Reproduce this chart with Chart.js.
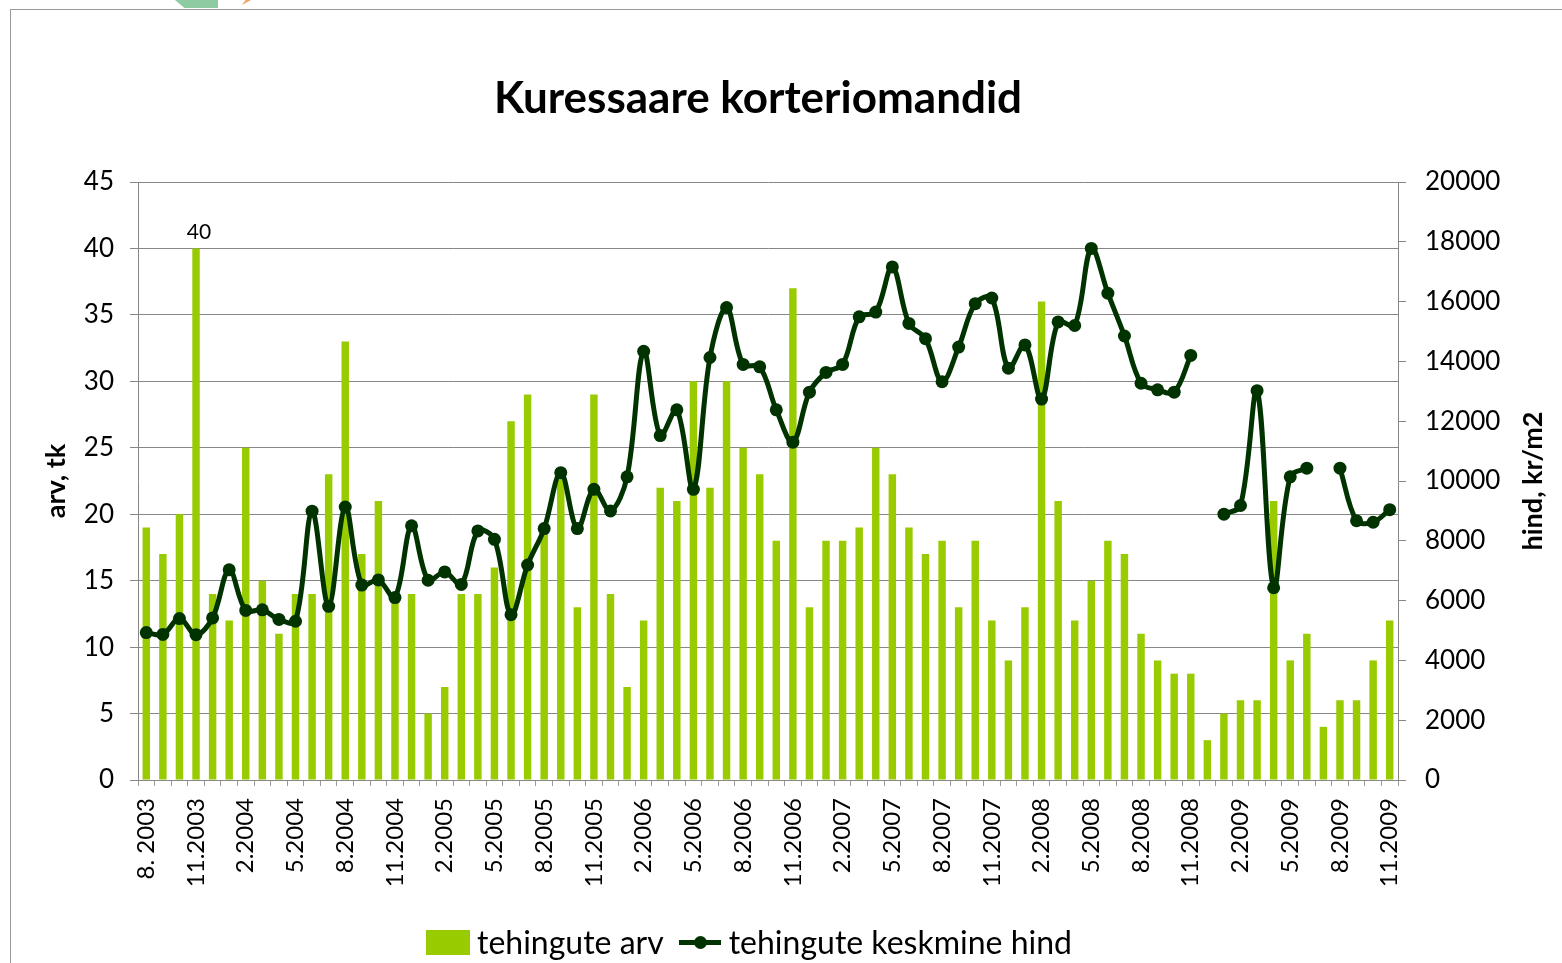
<!DOCTYPE html>
<html>
<head>
<meta charset="utf-8">
<title>Kuressaare korteriomandid</title>
<script src="https://cdn.jsdelivr.net/npm/chart.js@4.4.0/dist/chart.umd.min.js"></script>
<style>
  html, body { margin: 0; padding: 0; background: #fff; }
  #wrap { position: relative; width: 1562px; height: 963px; overflow: hidden; font-family: Lato, "Open Sans", sans-serif; }
  #frame { position: absolute; left: 10px; top: 9px; width: 1600px; height: 1000px;
           border-top: 1.5px solid #9a9a9a; border-left: 1.5px solid #9a9a9a; }
  .logo-a { position: absolute; left: 175px; top: 0; width: 43px; height: 8px; background: #8fcba2;
            clip-path: polygon(0 0, 100% 0, 100% 100%, 22% 100%); }
  .logo-b { position: absolute; left: 242px; top: 0; width: 9px; height: 5px; background: #f2a460;
            clip-path: polygon(40% 0, 100% 0, 0 100%); }
  canvas { position: absolute; left: 0; top: 0; }
  #legend { position: absolute; left: 426px; top: 922px; display: flex; align-items: center;
            font-size: 32px; color: #000; white-space: nowrap; line-height: 40px; }
  .sw-bar { width: 44px; height: 25px; background: #99cc00; margin-right: 7px; }
  .sw-line { position: relative; width: 42px; height: 5px; background: #003300; margin: 0 8px 0 15px; }
  .sw-line::after { content: ""; position: absolute; left: 15px; top: -4px; width: 13px; height: 13px;
                    border-radius: 50%; background: #003300; }
</style>
</head>
<body>
<div id="wrap">
  <div id="frame"></div>
  <div class="logo-a"></div>
  <div class="logo-b"></div>
  <canvas id="c" width="1562" height="963"></canvas>
  <div id="legend">
    <div class="sw-bar"></div><span id="lg0"></span>
    <div class="sw-line"></div><span id="lg1"></span>
  </div>
</div>
<script>
// Months, August 2003 – November 2009
const months = [
  '8. 2003', '9.2003', '10.2003', '11.2003', '12.2003',
  '1.2004', '2.2004', '3.2004', '4.2004', '5.2004', '6.2004', '7.2004', '8.2004', '9.2004', '10.2004', '11.2004', '12.2004',
  '1.2005', '2.2005', '3.2005', '4.2005', '5.2005', '6.2005', '7.2005', '8.2005', '9.2005', '10.2005', '11.2005', '12.2005',
  '1.2006', '2.2006', '3.2006', '4.2006', '5.2006', '6.2006', '7.2006', '8.2006', '9.2006', '10.2006', '11.2006', '12.2006',
  '1.2007', '2.2007', '3.2007', '4.2007', '5.2007', '6.2007', '7.2007', '8.2007', '9.2007', '10.2007', '11.2007', '12.2007',
  '1.2008', '2.2008', '3.2008', '4.2008', '5.2008', '6.2008', '7.2008', '8.2008', '9.2008', '10.2008', '11.2008', '12.2008',
  '1.2009', '2.2009', '3.2009', '4.2009', '5.2009', '6.2009', '7.2009', '8.2009', '9.2009', '10.2009', '11.2009'
];

// Number of transactions per month (left axis)
const dealCount = [
  19, 17, 20, 40, 14,
  12, 25, 15, 11, 14, 14, 23, 33, 17, 21, 14, 14,
  5, 7, 14, 14, 16, 27, 29, 19, 23, 13, 29, 14,
  7, 12, 22, 21, 30, 22, 30, 25, 23, 18, 37, 13,
  18, 18, 19, 25, 23, 19, 17, 18, 13, 18, 12, 9,
  13, 36, 21, 12, 15, 18, 17, 11, 9, 8, 8, 3,
  5, 6, 6, 21, 9, 11, 4, 6, 6, 9, 12
];

// Average price per m2 (right axis); null = no data that month
const avgPrice = [
  4930, 4870, 5400, 4860, 5420,
  7030, 5670, 5690, 5370, 5310, 8990, 5810, 9130, 6520, 6690, 6100, 8500,
  6680, 6960, 6540, 8330, 8050, 5530, 7190, 8410, 10280, 8410, 9720, 9000,
  10140, 14340, 11520, 12380, 9720, 14130, 15800, 13900, 13820, 12380, 11300, 12970,
  13630, 13900, 15490, 15650, 17160, 15270, 14760, 13320, 14480, 15930, 16120, 13770,
  14550, 12740, 15320, 15200, 17780, 16280, 14850, 13270, 13050, 12970, 14200, null,
  8890, 9180, 13020, 6430, 10140, 10430, null, 10430, 8670, 8620, 9040
];

// Axis ranges
const leftTicks = { min: 0, max: 45, step: 5 };
const rightTicks = { min: 0, max: 20000, step: 2000 };

// Texts
const chartTitle = 'Kuressaare korteriomandid';
const seriesNames = ['tehingute arv', 'tehingute keskmine hind'];
const leftAxisTitle = 'arv, tk';
const rightAxisTitle = 'hind, kr/m2';
const labelledMonth = '11.2003';

document.getElementById('lg0').textContent = seriesNames[0];
document.getElementById('lg1').textContent = seriesNames[1];

const GRID = '#878787';
const FONT = 'Lato';

// Title, rotated axis titles and the single value label
const decorations = {
  id: 'decorations',
  afterDraw(chart) {
    const ctx = chart.ctx;
    const area = chart.chartArea;
    const midY = (area.top + area.bottom) / 2;
    ctx.save();
    ctx.fillStyle = '#000';
    ctx.textAlign = 'center';
    ctx.textBaseline = 'middle';

    ctx.font = 'bold 44px ' + FONT;
    ctx.fillText(chartTitle, 758, 99);

    ctx.font = 'bold 27px ' + FONT;
    ctx.save();
    ctx.translate(56, midY);
    ctx.rotate(-Math.PI / 2);
    ctx.fillText(leftAxisTitle, 0, 0);
    ctx.restore();
    ctx.save();
    ctx.translate(1533, midY);
    ctx.rotate(-Math.PI / 2);
    ctx.fillText(rightAxisTitle, 0, 0);
    ctx.restore();

    const idx = months.indexOf(labelledMonth);
    const bar = chart.getDatasetMeta(1).data[idx];
    if (bar) {
      ctx.font = '21px ' + FONT;
      ctx.textBaseline = 'bottom';
      ctx.fillText(String(dealCount[idx]), bar.x + 3, bar.y - 6);
    }
    ctx.restore();
  }
};

new Chart(document.getElementById('c'), {
  data: {
    labels: months,
    datasets: [
      {
        type: 'line',
        label: seriesNames[1],
        data: avgPrice,
        yAxisID: 'y1',
        order: 0,
        borderColor: '#003300',
        backgroundColor: '#003300',
        borderWidth: 5,
        pointRadius: 6.5,
        pointBorderWidth: 0,
        pointBackgroundColor: '#003300',
        tension: 0.35,
        spanGaps: false,
        fill: false
      },
      {
        type: 'bar',
        label: seriesNames[0],
        data: dealCount,
        yAxisID: 'y',
        order: 1,
        backgroundColor: '#99cc00',
        barPercentage: 0.45,
        categoryPercentage: 1.0
      }
    ]
  },
  options: {
    responsive: false,
    animation: false,
    devicePixelRatio: 1,
    layout: { padding: { top: 182, left: 0, right: 0, bottom: 0 } },
    plugins: {
      legend: { display: false },
      title: { display: false },
      tooltip: { enabled: false }
    },
    scales: {
      x: {
        type: 'category',
        offset: true,
        grid: { display: true, drawOnChartArea: false, drawTicks: true, tickLength: 6, color: '#9a9a9a', offset: true },
        border: { display: true, color: GRID, width: 1 },
        ticks: {
          autoSkip: false, maxRotation: 90, minRotation: 90, padding: 12,
          color: '#000', font: { family: FONT, size: 24 },
          callback: (v, i) => (i % 3 === 0 ? months[i] : '')
        },
        afterFit: (s) => { s.height = 183; }
      },
      y: {
        position: 'left',
        min: leftTicks.min, max: leftTicks.max,
        grid: { color: GRID, tickLength: 8, lineWidth: 1 },
        border: { display: true, color: GRID },
        ticks: { stepSize: leftTicks.step, padding: 16, color: '#000', font: { family: FONT, size: 26 } },
        afterFit: (s) => { s.width = 138; }
      },
      y1: {
        position: 'right',
        min: rightTicks.min, max: rightTicks.max,
        grid: { drawOnChartArea: false, color: GRID, tickLength: 8 },
        border: { display: true, color: GRID },
        ticks: {
          stepSize: rightTicks.step, padding: 19, color: '#000', font: { family: FONT, size: 26 },
          callback: (v) => String(v)
        },
        afterFit: (s) => { s.width = 164; }
      }
    }
  },
  plugins: [decorations]
});
</script>
</body>
</html>
